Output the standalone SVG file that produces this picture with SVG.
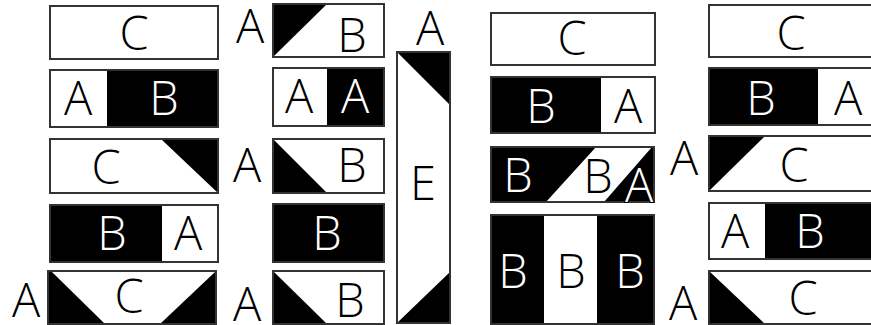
<svg xmlns="http://www.w3.org/2000/svg" width="871" height="325" viewBox="0 0 871 325">
<style>
.bx{fill:none;stroke:#333;stroke-width:2}
.w{fill:#fff}
.k{fill:#000}
text{font-family:"Open Sans","Noto Sans",sans-serif;font-size:47px;text-anchor:middle;font-weight:300}
.tk{fill:#000}
.tw{fill:#fff}
.ow{fill:#000;stroke:#fff;stroke-width:2;paint-order:stroke}
.ob{fill:#fff;stroke:#000;stroke-width:2;paint-order:stroke}
</style>
<rect width="871" height="325" fill="#fff"/>
<!-- Column 1 -->
<g id="c1r1"><rect class="w" x="50" y="6" width="168" height="53"/><rect class="bx" x="50" y="6" width="168" height="53"/><text class="tk" x="134" y="50">C</text></g>
<g id="c1r2"><rect class="w" x="50" y="70" width="57" height="57"/><rect class="k" x="107" y="70" width="111" height="57"/><rect class="bx" x="50" y="70" width="168" height="57"/><text class="tk" x="78" y="115">A</text><text class="tw" x="164" y="115">B</text></g>
<g id="c1r3"><rect class="w" x="50" y="139" width="168" height="54"/><polygon class="k" points="161,139 218,139 218,193"/><rect class="bx" x="50" y="139" width="168" height="54"/><text class="tk" x="106" y="184">C</text></g>
<g id="c1r4"><rect class="k" x="50" y="205" width="112" height="57"/><rect class="w" x="162" y="205" width="56" height="57"/><rect class="bx" x="50" y="205" width="168" height="57"/><text class="tw" x="112" y="250">B</text><text class="tk" x="188" y="250">A</text></g>
<g id="c1r5"><rect class="k" x="48" y="271" width="168" height="53"/><polygon class="w" points="52,272 215,272 160,324 105,324"/><rect class="bx" x="48" y="271" width="168" height="53"/><text class="tk" x="129" y="313">C</text></g>
<g id="lbl1"><text class="tk" x="26" y="317">A</text></g>
<!-- Column 2 -->
<g id="c2r1"><rect class="w" x="273" y="4" width="111" height="53"/><polygon class="k" points="273,4 327,4 273,57"/><rect class="bx" x="273" y="4" width="111" height="53"/><text class="tk" x="352" y="52">B</text></g>
<g id="lbl2"><text class="tk" x="250" y="43">A</text></g>
<g id="c2r2"><rect class="w" x="273" y="68" width="54" height="58"/><rect class="k" x="327" y="68" width="57" height="58"/><rect class="bx" x="273" y="68" width="111" height="58"/><text class="tk" x="299" y="113">A</text><text class="tw" x="355" y="113">A</text></g>
<g id="c2r3"><rect class="w" x="273" y="139" width="111" height="54"/><polygon class="k" points="273,139 273,193 327,193"/><rect class="bx" x="273" y="139" width="111" height="54"/><text class="tk" x="352" y="182">B</text></g>
<g id="lbl3"><text class="tk" x="247" y="182">A</text></g>
<g id="c2r4"><rect class="k" x="273" y="204" width="111" height="58"/><rect class="bx" x="273" y="204" width="111" height="58"/><text class="tw" x="327" y="250">B</text></g>
<g id="c2r5"><rect class="w" x="273" y="271" width="111" height="53"/><polygon class="k" points="273,271 273,324 327,324"/><rect class="bx" x="273" y="271" width="111" height="53"/><text class="tk" x="350" y="317">B</text></g>
<g id="lbl4"><text class="tk" x="247" y="321">A</text></g>
<!-- Column 3 -->
<g id="c3"><rect class="w" x="397" y="52" width="53" height="271"/><polygon class="k" points="397,52 450,52 450,105"/><polygon class="k" points="397,323 450,323 450,272"/><rect class="bx" x="397" y="52" width="53" height="271"/><text class="tk" x="423" y="200">E</text></g>
<g id="lbl5"><text class="tk" x="430" y="45">A</text></g>
<!-- Column 4 -->
<g id="c4r1"><rect class="w" x="491" y="13" width="164" height="52"/><rect class="bx" x="491" y="13" width="164" height="52"/><text class="tk" x="572" y="55">C</text></g>
<g id="c4r2"><rect class="k" x="491" y="77" width="110" height="56"/><rect class="w" x="601" y="77" width="54" height="56"/><rect class="bx" x="491" y="77" width="164" height="56"/><text class="tw" x="541" y="123">B</text><text class="tk" x="628" y="123">A</text></g>
<g id="c4r3"><rect class="k" x="491" y="147" width="163" height="55"/><polygon class="w" points="546,202 596,147 652,147 604,202"/><rect class="bx" x="491" y="147" width="163" height="55"/><text class="tw" x="518" y="192">B</text><text class="ow" x="598" y="193">B</text><text class="ob" x="639" y="202">A</text></g>
<g id="c4r4"><rect class="k" x="491" y="215" width="163" height="109"/><rect class="w" x="544" y="215" width="53" height="109"/><rect class="bx" x="491" y="215" width="163" height="109"/><text class="tw" x="513" y="288">B</text><text class="tk" x="571" y="288">B</text><text class="tw" x="630" y="288">B</text></g>
<!-- Column 5 -->
<g id="c5r1"><rect class="w" x="709" y="5" width="175" height="52"/><rect class="bx" x="709" y="5" width="175" height="52"/><text class="tk" x="791" y="50">C</text></g>
<g id="c5r2"><rect class="k" x="709" y="68" width="109" height="57"/><rect class="w" x="818" y="68" width="66" height="57"/><rect class="bx" x="709" y="68" width="175" height="57"/><text class="tw" x="761" y="115">B</text><text class="tk" x="848" y="115">A</text></g>
<g id="c5r3"><rect class="w" x="709" y="136" width="175" height="55"/><polygon class="k" points="709,136 765,136 709,191"/><rect class="bx" x="709" y="136" width="175" height="55"/><text class="tk" x="794" y="182">C</text></g>
<g id="lbl6"><text class="tk" x="684" y="175">A</text></g>
<g id="c5r4"><rect class="w" x="709" y="203" width="56" height="56"/><rect class="k" x="765" y="203" width="119" height="56"/><rect class="bx" x="709" y="203" width="175" height="56"/><text class="tk" x="735" y="248">A</text><text class="tw" x="810" y="248">B</text></g>
<g id="c5r5"><rect class="w" x="709" y="271" width="175" height="53"/><polygon class="k" points="709,271 709,324 765,324"/><rect class="bx" x="709" y="271" width="175" height="53"/><text class="tk" x="803" y="315">C</text></g>
<g id="lbl7"><text class="tk" x="683" y="320">A</text></g>
<g id="connectors"></g>
</svg>
